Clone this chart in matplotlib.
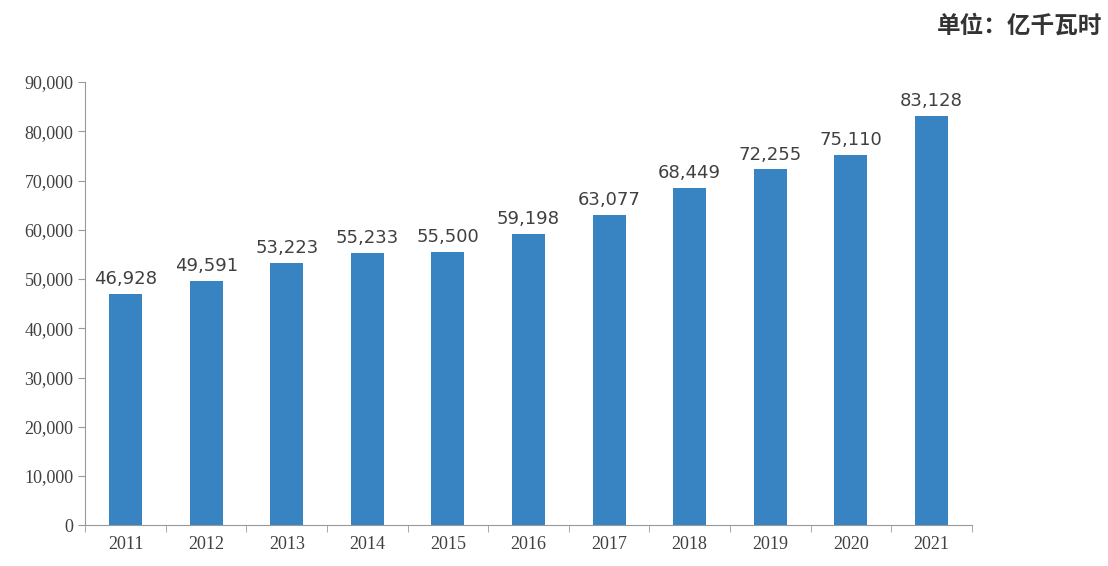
import matplotlib
matplotlib.use("Agg")
import matplotlib.pyplot as plt
import numpy as np

years = ['2011', '2012', '2013', '2014', '2015', '2016', '2017', '2018', '2019', '2020', '2021']
values = [46928, 49591, 53223, 55233, 55500, 59198, 63077, 68449, 72255, 75110, 83128]

fig = plt.figure(figsize=(11.08, 5.66), dpi=100)
ax = fig.add_axes([0.077, 0.072, 0.80, 0.783])

x = np.arange(len(years))
ax.bar(x, values, width=0.41, color='#3883c2')
for xi, v in zip(x, values):
    ax.text(xi, v + 1200, f'{v:,}', ha='center', va='bottom', fontsize=13,
            color='#404040', family='DejaVu Sans')

ax.set_xlim(-0.5, len(years) - 0.5)
ax.set_ylim(0, 90000)
ax.set_yticks(np.arange(0, 90001, 10000))
ax.set_yticklabels([f'{t:,}' for t in range(0, 90001, 10000)],
                   family='Liberation Serif', fontsize=13, color='#404040')
ax.set_xticks(x)
ax.set_xticklabels(years, family='Liberation Serif', fontsize=13, color='#404040')
ax.set_xticks(np.arange(-0.5, len(years)), minor=True)
ax.tick_params(axis='x', which='major', length=0, pad=8)
ax.tick_params(axis='x', which='minor', length=5, color='#999999')
ax.tick_params(axis='y', length=5, color='#999999')
for s in ['top', 'right']:
    ax.spines[s].set_visible(False)
for s in ['left', 'bottom']:
    ax.spines[s].set_color('#999999')

fig.text(0.995, 0.955, '单位：亿千瓦时', ha='right', va='center', fontsize=17,
         fontweight='bold', color='#333333', family=['Noto Sans CJK SC', 'DejaVu Sans'])

fig.savefig('out.png', dpi=100)
